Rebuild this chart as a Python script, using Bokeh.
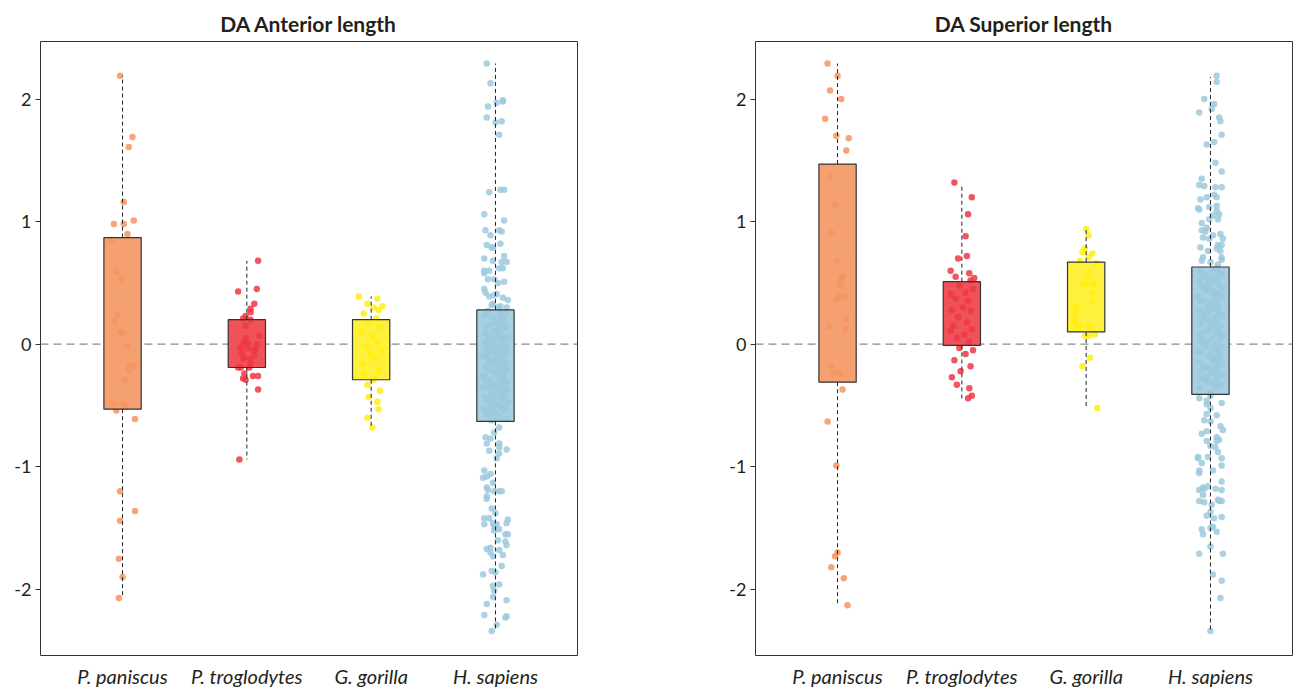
from bokeh.plotting import figure
from bokeh.layouts import row
from bokeh.models import ColumnDataSource, FixedTicker, Span, Range1d
from bokeh.embed import file_html
from bokeh.resources import INLINE

species = ["P. paniscus", "P. troglodytes", "G. gorilla", "H. sapiens"]
y_ticks = [-2, -1, 0, 1, 2]
titles = ["DA Anterior length", "DA Superior length"]

point_colors = ["#F6955F", "#EE3844", "#FFEE10", "#9CC9DD"]
box_colors = ["#F5A070", "#F0525A", "#FFF03C", "#A8D0E2"]

# ---------------- Box statistics (lo whisker, Q1, median, Q3, hi whisker) -------------
ant_lo = [-2.07, -0.94, -0.68, -2.34]
ant_q1 = [-0.53, -0.19, -0.29, -0.63]
ant_med = [-0.02, -0.03, -0.02, -0.15]
ant_q3 = [0.87, 0.20, 0.20, 0.28]
ant_hi = [2.19, 0.68, 0.39, 2.29]

sup_lo = [-2.13, -0.46, -0.52, -2.34]
sup_q1 = [-0.31, -0.01, 0.10, -0.41]
sup_med = [0.39, 0.31, 0.34, 0.14]
sup_q3 = [1.47, 0.51, 0.67, 0.63]
sup_hi = [2.29, 1.31, 0.93, 2.18]

# ---------------- Individual observations (value, horizontal jitter) -----------------
# DA Anterior length
ant_pan_val = [2.19, 1.69, 1.61, 1.16, 0.98, 0.98, 1.01, 0.90, 0.85, 0.59,
               0.53, 0.24, 0.19, 0.10, 0.09, -0.02, -0.17, -0.18, -0.21, -0.29,
               -0.49, -0.49, -0.54, -0.51, -0.61, -1.20, -1.36, -1.44, -1.75, -1.90,
               -2.07]
ant_pan_jit = [-0.02, 0.08, 0.05, 0.01, -0.07, 0.01, 0.09, 0.04, -0.09, -0.05,
               -0.01, -0.04, -0.06, -0.02, 0.00, 0.04, 0.05, 0.09, 0.05, 0.02,
               -0.07, 0.00, -0.05, 0.02, 0.10, -0.02, 0.10, -0.02, -0.03, 0.00,
               -0.03]

ant_tro_val = [0.68, 0.43, 0.45, 0.33, 0.29, 0.26, 0.23, 0.21, 0.20, 0.15,
               0.07, 0.05, 0.00, 0.00, 0.01, -0.03, -0.03, -0.04, -0.11, -0.05,
               -0.09, -0.12, -0.12, -0.16, -0.19, -0.19, -0.19, -0.24, -0.26, -0.26,
               -0.28, -0.29, -0.37, -0.94, 0.02, -0.07]
ant_tro_jit = [0.09, -0.07, 0.08, 0.06, 0.03, 0.03, -0.01, -0.03, 0.03, -0.01,
               0.10, -0.01, -0.03, 0.08, 0.01, -0.05, 0.01, 0.07, -0.02, 0.06,
               0.06, -0.03, 0.03, 0.03, -0.07, -0.05, 0.02, -0.02, 0.05, 0.09,
               -0.03, -0.01, 0.09, -0.06, -0.02, -0.04]

ant_gor_val = [0.39, 0.37, 0.33, 0.31, 0.30, 0.28, 0.25, 0.21, 0.18, 0.14,
               0.10, 0.06, 0.02, -0.02, -0.05, -0.08, -0.12, -0.16, -0.21, -0.25,
               -0.29, -0.33, -0.38, -0.43, -0.47, -0.53, -0.60, -0.68]
ant_gor_jit = [-0.10, 0.05, -0.03, 0.09, 0.02, 0.06, -0.06, 0.04, -0.02, 0.07,
               -0.08, 0.01, 0.05, -0.04, 0.08, -0.01, 0.03, -0.07, 0.06, -0.05,
               0.02, -0.03, 0.07, -0.02, 0.05, 0.06, -0.03, 0.01]

ant_sap_val = [2.29, 2.13, 1.97, 1.99, 1.98, 1.94, 1.85, 1.81, 1.82, 1.71,
               1.24, 1.26, 1.26, 1.06, 1.01, 0.93, 0.93, 0.92, 0.89, 0.81,
               0.79, 0.79, 0.82, 0.72, 0.70, 0.68, 0.67, 0.67, 0.62, 0.62,
               0.60, 0.60, 0.58, 0.53, 0.53, 0.50, 0.51, 0.45, 0.42, 0.39,
               0.40, 0.41, 0.38, 0.36, 0.32, 0.33, 0.31, 0.30, 0.30,
               0.27, 0.25, 0.26, 0.22, 0.21, 0.23, 0.18, 0.19, 0.16, 0.14,
               0.15, 0.12, 0.11, 0.13, 0.09, 0.08, 0.06, 0.07, 0.04, 0.05,
               0.02, 0.03, 0.01, -0.01, -0.02, 0.00, -0.04, -0.03, -0.06, -0.05,
               -0.08, -0.07, -0.09, -0.10, -0.11, -0.12, -0.13, -0.14, -0.15, -0.16,
               -0.17, -0.18, -0.19, -0.20, -0.22, -0.21, -0.24, -0.23, -0.26, -0.25,
               -0.27, -0.29, -0.28, -0.31, -0.30, -0.33, -0.32, -0.35, -0.34, -0.37,
               -0.36, -0.39, -0.40, -0.41, -0.43, -0.42, -0.45, -0.44, -0.47, -0.46,
               -0.49, -0.48, -0.51, -0.50, -0.53, -0.52, -0.55, -0.54, -0.57, -0.56,
               -0.59, -0.58, -0.61, -0.60, -0.62, 0.24, 0.17, 0.10, 0.03, -0.06,
               -0.13, -0.20, -0.27, -0.38, -0.44, -0.52, 0.20, -0.09, -0.31, -0.47,
               -0.68, -0.72, -0.76, -0.77, -0.81, -0.81, -0.84, -0.86, -0.87, -0.89,
               -0.93, -1.03, -1.09, -1.06, -1.08, -1.13, -1.17, -1.19, -1.20, -1.20,
               -1.20, -1.24, -1.26, -1.34, -1.38, -1.42, -1.42, -1.47, -1.46, -1.47,
               -1.43, -1.46, -1.49, -1.51, -1.52, -1.55, -1.55, -1.60, -1.61, -1.64,
               -1.67, -1.66, -1.68, -1.70, -1.73, -1.72, -1.81, -1.88, -1.85, -1.86,
               -1.97, -1.96, -2.01, -2.06, -2.09, -2.12, -2.21, -2.23, -2.22, -2.29,
               -2.34]
ant_sap_jit = [-0.07, -0.04, 0.01, 0.06, 0.06, -0.06, -0.07, 0.00, 0.05, 0.03,
               -0.05, 0.04, 0.07, -0.09, 0.07, -0.08, 0.03, 0.05, -0.04, -0.07,
               -0.03, -0.02, 0.04, 0.07, -0.09, -0.02, 0.05, 0.09, 0.03, 0.06,
               -0.09, -0.05, -0.09, -0.01, -0.06, 0.02, 0.07, -0.09, -0.08, -0.05,
               -0.01, 0.01, 0.06, 0.10, -0.03, -0.02, 0.04, 0.09, 0.02,
               -0.06, 0.04, 0.09, -0.02, 0.07, -0.09, 0.01, 0.05, -0.04, 0.08,
               -0.07, 0.02, -0.01, 0.06, -0.08, 0.03, 0.10, -0.05, 0.00, 0.07,
               -0.03, 0.05, -0.09, 0.08, 0.02, -0.06, 0.04, -0.02, 0.09, -0.07,
               0.01, -0.04, 0.06, -0.10, 0.03, 0.07, -0.05, 0.00, 0.08, -0.03,
               0.05, -0.08, 0.02, 0.09, -0.01, -0.06, 0.04, 0.07, -0.09, 0.01,
               0.06, -0.04, 0.03, -0.07, 0.08, -0.02, 0.05, -0.10, 0.00, 0.09,
               -0.05, 0.02, 0.07, -0.03, -0.08, 0.04, 0.06, -0.01, 0.10, -0.06,
               0.03, -0.04, 0.08, 0.01, -0.09, 0.05, -0.02, 0.07, -0.07, 0.00,
               0.04, -0.05, 0.09, 0.02, -0.03, -0.08, 0.06, 0.01, -0.06, 0.08,
               -0.01, 0.03, -0.10, 0.05, 0.07, -0.04, 0.02, -0.07, 0.09, -0.02,
               0.03, -0.01, -0.08, -0.04, -0.07, 0.03, 0.03, 0.09, -0.05, 0.03,
               0.01, -0.09, -0.10, -0.04, -0.07, -0.02, -0.07, -0.06, -0.01, 0.03,
               0.05, -0.07, -0.07, -0.03, 0.00, -0.09, -0.05, -0.09, -0.02, 0.01,
               0.10, 0.09, -0.01, 0.03, -0.01, 0.08, 0.10, 0.02, 0.08, 0.09,
               -0.07, -0.04, 0.03, -0.04, -0.02, 0.06, 0.05, -0.10, -0.03, 0.00,
               -0.02, 0.03, -0.01, -0.02, 0.09, -0.07, -0.09, 0.08, 0.09, 0.01,
               -0.03]

# DA Superior length
sup_pan_val = [2.29, 2.19, 2.07, 2.00, 1.84, 1.70, 1.68, 1.58, 1.37, 1.14,
               0.91, 0.68, 0.55, 0.53, 0.49, 0.39, 0.39, 0.36, 0.20, 0.14,
               0.12, -0.18, -0.24, -0.24, -0.37, -0.63, -0.99, -1.70, -1.73, -1.82,
               -1.91, -2.13]
sup_pan_jit = [-0.08, 0.00, -0.06, 0.03, -0.10, -0.01, 0.09, 0.07, -0.06, -0.02,
               -0.05, 0.00, 0.04, 0.03, 0.02, 0.01, 0.05, -0.01, 0.07, -0.07,
               0.06, -0.05, -0.03, 0.02, 0.04, -0.08, -0.01, 0.00, -0.02, -0.05,
               0.05, 0.08]

sup_tro_val = [1.32, 1.20, 1.06, 0.88, 0.72, 0.70, 0.60, 0.58, 0.55, 0.54,
               0.52, 0.48, 0.45, 0.41, 0.42, 0.37, 0.35, 0.30, 0.28, 0.27,
               0.22, 0.18, 0.15, 0.12, 0.11, 0.08, 0.05, 0.02, -0.03, -0.05,
               -0.08, -0.13, -0.18, -0.22, -0.27, -0.33, -0.36, -0.42, -0.44]
sup_tro_jit = [-0.06, 0.08, 0.05, 0.03, 0.04, -0.03, -0.09, 0.06, -0.05, 0.10,
               0.07, -0.02, 0.09, -0.09, 0.03, -0.05, 0.05, 0.01, -0.08, 0.07,
               -0.03, 0.04, -0.07, 0.08, -0.09, 0.02, -0.04, 0.06, -0.02, 0.09,
               0.03, -0.06, 0.07, -0.01, -0.08, -0.04, 0.06, 0.08, 0.05]

sup_gor_val = [0.94, 0.89, 0.75, 0.78, 0.74, 0.71, 0.68, 0.66, 0.58, 0.55,
               0.49, 0.49, 0.49, 0.42, 0.35, 0.31, 0.30, 0.25, 0.19, 0.15,
               0.13, 0.14, 0.12, 0.07, 0.07, 0.08, -0.11, -0.18, -0.52]
sup_gor_jit = [0.00, 0.02, -0.03, -0.01, 0.05, 0.02, -0.05, 0.08, 0.02, 0.01,
               -0.03, 0.00, 0.06, 0.05, 0.05, -0.09, -0.07, -0.09, -0.09, -0.06,
               -0.08, 0.03, 0.05, -0.01, 0.02, 0.07, 0.03, -0.03, 0.09]

sup_sap_val = [2.19, 2.14, 2.00, 1.96, 1.89, 1.92, 1.85, 1.82, 1.71, 1.65,
               1.63, 1.48, 1.41, 1.35, 1.30, 1.29, 1.28, 1.28, 1.22, 1.20,
               1.20, 1.18, 1.13, 1.11, 1.12, 1.10, 1.09, 1.06, 1.05, 1.02,
               1.02, 0.99, 0.95, 0.93, 0.92, 0.89, 0.90, 0.87, 0.86, 0.86,
               0.79, 0.76, 0.81, 0.81, 0.78, 0.76, 0.71, 0.71, 0.67, 0.68,
               0.65, 0.69,
               0.62, 0.60, 0.61, 0.58, 0.57, 0.59, 0.55, 0.54, 0.56, 0.52,
               0.51, 0.53, 0.49, 0.48, 0.50, 0.46, 0.45, 0.47, 0.43, 0.42,
               0.44, 0.40, 0.39, 0.41, 0.37, 0.36, 0.38, 0.34, 0.33, 0.35,
               0.31, 0.30, 0.32, 0.28, 0.27, 0.29, 0.25, 0.24, 0.26, 0.22,
               0.21, 0.23, 0.19, 0.18, 0.20, 0.16, 0.15, 0.17, 0.13, 0.12,
               0.14, 0.10, 0.09, 0.11, 0.07, 0.06, 0.08, 0.04, 0.03, 0.05,
               0.01, 0.00, 0.02, -0.02, -0.03, -0.01, -0.05, -0.06, -0.04, -0.08,
               -0.09, -0.07, -0.11, -0.12, -0.10, -0.14, -0.15, -0.13, -0.17, -0.18,
               -0.16, -0.20, -0.21, -0.19, -0.23, -0.24, -0.22, -0.26, -0.27, -0.25,
               -0.29, -0.30, -0.28, -0.32, -0.33, -0.31, -0.35, -0.36, -0.34, -0.39,
               -0.44, -0.46, -0.42, -0.49, -0.48, -0.52, -0.57, -0.58, -0.62, -0.63,
               -0.67, -0.70, -0.73, -0.71, -0.76, -0.78, -0.79, -0.79, -0.83, -0.84,
               -0.88, -0.93, -0.97, -0.92, -0.93, -0.92, -0.99, -1.03, -1.05, -1.03,
               -1.12, -1.19, -1.17, -1.18, -1.16, -1.18, -1.19, -1.23, -1.28, -1.29,
               -1.27, -1.28, -1.28, -1.31, -1.37, -1.40, -1.42, -1.41, -1.51, -1.55,
               -1.50, -1.49, -1.53, -1.65, -1.71, -1.71, -1.88, -1.93, -2.07, -2.34]
sup_sap_jit = [0.05, 0.05, -0.05, 0.03, -0.09, 0.01, 0.07, 0.08, 0.09, 0.03,
               -0.03, 0.04, 0.09, -0.07, -0.09, -0.05, 0.04, 0.09, 0.03, 0.05,
               -0.03, -0.08, 0.05, -0.10, -0.01, -0.09, 0.05, 0.07, 0.02, -0.01,
               0.06, -0.07, -0.03, -0.07, -0.04, 0.02, 0.08, -0.06, 0.10, -0.01,
               -0.08, -0.02, 0.06, 0.09, 0.05, 0.08, -0.06, 0.09, 0.00, -0.07,
               0.06, 0.09,
               0.05, -0.08, 0.02, 0.09, -0.03, 0.06, -0.06, 0.01, 0.08, -0.01,
               -0.09, 0.04, 0.07, -0.05, 0.00, 0.10, -0.02, -0.07, 0.03, 0.06,
               -0.04, 0.08, -0.10, 0.02, 0.05, -0.06, 0.09, -0.01, 0.04, -0.08,
               0.07, -0.03, 0.01, -0.09, 0.06, 0.03, -0.05, 0.10, -0.02, 0.04,
               -0.07, 0.09, -0.01, 0.05, -0.04, 0.02, 0.08, -0.08, 0.00, 0.06,
               0.03, -0.06, 0.07, -0.02, 0.10, -0.09, 0.04, 0.01, -0.05, 0.08,
               -0.03, 0.05, -0.08, 0.09, 0.02, -0.04, 0.06, -0.10, 0.03, 0.07,
               0.00, -0.07, 0.04, 0.08, -0.01, 0.05, -0.09, 0.02, 0.06, -0.05,
               0.09, -0.02, 0.03, -0.06, 0.07, 0.01, -0.08, 0.05, -0.03, 0.10,
               -0.04, 0.06, -0.07, 0.02, 0.08, -0.01, 0.04, -0.09, 0.07, 0.00,
               -0.09, -0.03, 0.00, -0.03, 0.09, 0.00, -0.03, 0.05, -0.05, 0.00,
               0.08, 0.10, -0.07, -0.03, 0.05, 0.07, -0.03, 0.05, 0.00, 0.04,
               0.06, -0.10, -0.07, -0.02, 0.09, -0.10, 0.09, -0.09, -0.09, 0.02,
               0.09, -0.09, -0.06, -0.05, -0.02, 0.04, 0.09, -0.06, -0.09, -0.05,
               0.06, 0.07, 0.09, 0.01, 0.00, -0.03, 0.03, 0.09, -0.07, -0.06,
               0.00, 0.02, 0.05, 0.00, -0.09, 0.10, 0.02, 0.09, 0.08, 0.00]

ant_vals = [ant_pan_val, ant_tro_val, ant_gor_val, ant_sap_val]
ant_jits = [ant_pan_jit, ant_tro_jit, ant_gor_jit, ant_sap_jit]
sup_vals = [sup_pan_val, sup_tro_val, sup_gor_val, sup_sap_val]
sup_jits = [sup_pan_jit, sup_tro_jit, sup_gor_jit, sup_sap_jit]

FONT = "Lato"
TXT = "#231f20"


def make_panel(title, vals, jits, lo, q1, med, q3, hi, bl, br):
    p = figure(frame_width=537, frame_height=614,
               x_range=Range1d(0.34, 4.66), y_range=Range1d(-2.54, 2.47),
               output_backend="svg", toolbar_location=None,
               min_border_left=bl, min_border_right=br,
               min_border_top=41, min_border_bottom=0)
    p.title.text = title
    p.title.align = "center"
    p.title.text_font = FONT
    p.title.text_font_style = "bold"
    p.title.text_font_size = "21px"
    p.title.text_color = TXT
    p.title.standoff = 11
    p.xgrid.visible = False
    p.ygrid.visible = False
    p.outline_line_color = "#333333"
    p.outline_line_width = 1

    xs = [1, 2, 3, 4]
    box_src = ColumnDataSource(dict(x=xs, lo=lo, q1=q1, med=med, q3=q3, hi=hi,
                                    fill=box_colors))
    p.add_layout(Span(location=0, dimension="width", line_color="#8a8a8a",
                      line_dash="8 5", line_width=1.3, level="underlay"))
    # box fills
    p.vbar(x="x", width=0.3, top="q3", bottom="q1", source=box_src,
           fill_color="fill", line_color=None)
    # points
    for i in range(4):
        src = ColumnDataSource(dict(x=[xs[i] + j for j in jits[i]], y=vals[i]))
        p.scatter(x="x", y="y", source=src, size=6.5, fill_color=point_colors[i],
                  line_color=None, fill_alpha=0.85)
    # box outlines and medians
    p.vbar(x="x", width=0.3, top="q3", bottom="q1", source=box_src,
           fill_color=None, line_color="#333333", line_width=1.2)
    p.rect(x="x", y="med", width=0.3, height=0, source=box_src,
           fill_color=None, line_color="#2a2a2a", line_width=1.2)
    # whiskers
    p.segment(x0="x", y0="q3", x1="x", y1="hi", source=box_src,
              line_color="#222222", line_width=1, line_dash="4 3")
    p.segment(x0="x", y0="q1", x1="x", y1="lo", source=box_src,
              line_color="#222222", line_width=1, line_dash="4 3")
    p.rect(x="x", y="hi", width=0.12, height=0, source=box_src,
           line_color="#555555", line_width=1.5)
    p.rect(x="x", y="lo", width=0.12, height=0, source=box_src,
           line_color="#555555", line_width=1.5)

    p.yaxis.ticker = FixedTicker(ticks=y_ticks)
    p.yaxis.major_label_overrides = {t: str(t) for t in y_ticks}
    p.yaxis.axis_line_color = None
    p.yaxis.major_tick_out = 5
    p.yaxis.major_tick_in = 0
    p.yaxis.major_tick_line_color = "#333333"
    p.yaxis.minor_tick_line_color = None
    p.yaxis.major_label_standoff = 4
    p.yaxis.major_label_text_font = FONT
    p.yaxis.major_label_text_font_size = "18px"
    p.yaxis.major_label_text_color = TXT

    p.xaxis.ticker = FixedTicker(ticks=xs)
    p.xaxis.major_label_overrides = {x: s for x, s in zip(xs, species)}
    p.xaxis.axis_line_color = None
    p.xaxis.major_tick_line_color = None
    p.xaxis.minor_tick_line_color = None
    p.xaxis.major_tick_out = 0
    p.xaxis.major_label_standoff = 8
    p.xaxis.major_label_text_font = FONT
    p.xaxis.major_label_text_font_style = "italic"
    p.xaxis.major_label_text_font_size = "20px"
    p.xaxis.major_label_text_color = TXT
    return p


p1 = make_panel(titles[0], ant_vals, ant_jits, ant_lo, ant_q1, ant_med, ant_q3, ant_hi, 40, 10)
p2 = make_panel(titles[1], sup_vals, sup_jits, sup_lo, sup_q1, sup_med, sup_q3, sup_hi, 168, 1)

layout = row(p1, p2)
open("out.html", "w").write(file_html(layout, INLINE))
